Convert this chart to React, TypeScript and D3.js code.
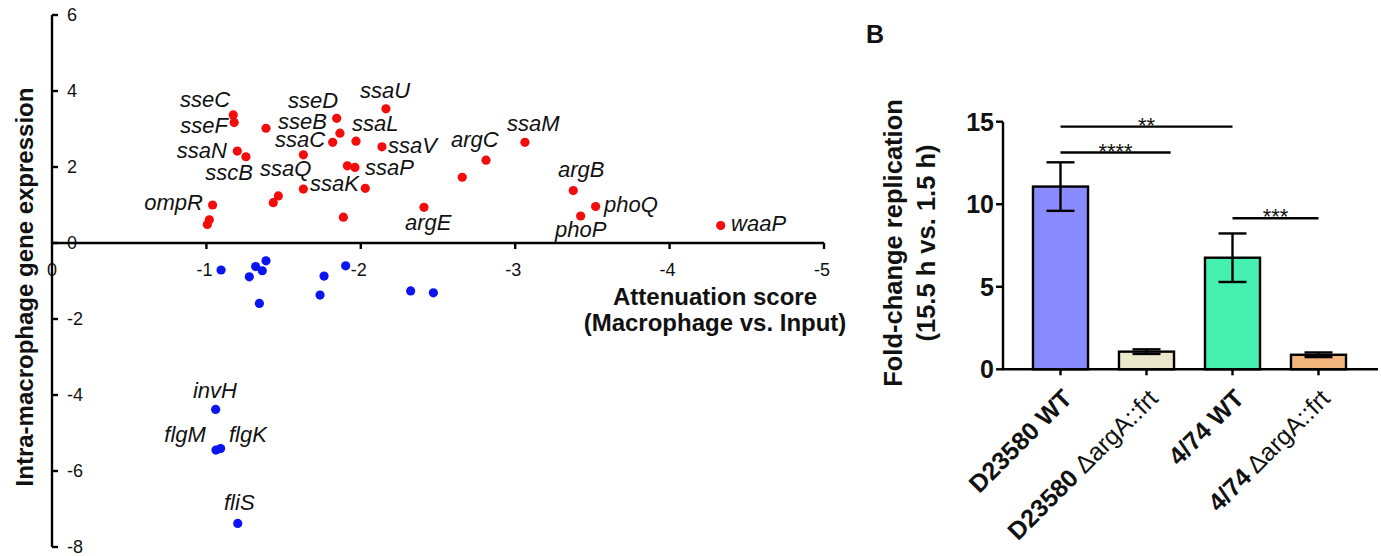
import React from "react";
import * as d3 from "d3";

const FONT = '"Liberation Sans", Arial, Helvetica, sans-serif';

// ---------- Panel A data ----------
const xTicksA = [0, -1, -2, -3, -4, -5];
const yTicksA = [6, 4, 2, 0, -2, -4, -6, -8];

// [attenuation score, intra-macrophage expression]
const upregulated: [number, number][] = [
  [-1.174, 3.37], [-1.18, 3.17], [-1.386, 3.02], [-1.2, 2.42], [-1.256, 2.27],
  [-1.628, 2.32], [-1.844, 3.28], [-1.865, 2.89], [-1.818, 2.65], [-1.969, 2.68],
  [-2.163, 3.53], [-2.137, 2.53], [-1.913, 2.03], [-1.962, 1.99], [-2.029, 1.44],
  [-1.628, 1.42], [-1.466, 1.24], [-1.433, 1.06], [-1.887, 0.68], [-1.04, 1.0],
  [-1.019, 0.61], [-1.006, 0.49], [-2.409, 0.94], [-2.657, 1.73], [-2.811, 2.18],
  [-3.063, 2.65], [-3.376, 1.38], [-3.521, 0.96], [-3.424, 0.71], [-4.331, 0.46],
];
const downregulated: [number, number][] = [
  [-1.095, -0.71], [-1.319, -0.62], [-1.362, -0.73], [-1.386, -0.47], [-1.278, -0.89],
  [-1.343, -1.59], [-1.762, -0.87], [-1.736, -1.37], [-1.902, -0.6], [-2.323, -1.26],
  [-2.47, -1.31], [-1.06, -4.38], [-1.062, -5.45], [-1.092, -5.41], [-1.203, -7.38],
];

// gene labels, anchored in data units (end = label ends at the anchor)
const geneLabels: { gene: string; x: number; y: number; end: boolean }[] = [
  { gene: "sseC", x: -1.153, y: 3.58, end: true },
  { gene: "sseF", x: -1.14, y: 2.89, end: true },
  { gene: "ssaN", x: -1.133, y: 2.24, end: true },
  { gene: "sscB", x: -1.302, y: 1.66, end: true },
  { gene: "ompR", x: -0.978, y: 0.87, end: true },
  { gene: "sseD", x: -1.528, y: 3.56, end: false },
  { gene: "sseB", x: -1.464, y: 2.99, end: false },
  { gene: "ssaC", x: -1.444, y: 2.52, end: false },
  { gene: "ssaQ", x: -1.347, y: 1.76, end: false },
  { gene: "ssaK", x: -1.671, y: 1.37, end: false },
  { gene: "ssaU", x: -1.995, y: 3.82, end: false },
  { gene: "ssaL", x: -1.943, y: 2.95, end: false },
  { gene: "ssaV", x: -2.176, y: 2.37, end: false },
  { gene: "ssaP", x: -2.027, y: 1.79, end: false },
  { gene: "argE", x: -2.286, y: 0.34, end: false },
  { gene: "argC", x: -2.584, y: 2.53, end: false },
  { gene: "ssaM", x: -2.947, y: 2.95, end: false },
  { gene: "argB", x: -3.277, y: 1.74, end: false },
  { gene: "phoQ", x: -3.575, y: 0.82, end: false },
  { gene: "phoP", x: -3.258, y: 0.16, end: false },
  { gene: "waaP", x: -4.398, y: 0.32, end: false },
  { gene: "invH", x: -0.913, y: -4.08, end: false },
  { gene: "flgM", x: -0.997, y: -5.24, end: true },
  { gene: "flgK", x: -1.146, y: -5.24, end: false },
  { gene: "fliS", x: -1.114, y: -7.03, end: false },
];

// ---------- Panel B data ----------
const strains = ["D23580 WT", "D23580 ΔargA::frt", "4/74 WT", "4/74 ΔargA::frt"];
const strainBold = ["D23580 WT", "D23580", "4/74 WT", "4/74"];
const strainRegular = ["", " ΔargA::frt", "", " ΔargA::frt"];
const foldMeans = [11.07, 1.07, 6.76, 0.88];
const foldSem = [1.47, 0.14, 1.47, 0.14];
const yTicksB = [0, 5, 10, 15];
const barColors = ["#8a8aff", "#ebe7cc", "#45f0b0", "#f2b57c"];
// significance brackets: from/to in category units, level in fold units
const sigFrom = [0, 0, 2];
const sigTo = [2, 1.28, 3];
const sigLevel = [14.7, 13.13, 9.15];
const sigText = ["**", "****", "***"];

export default function App() {
  // Panel A scales
  const xA = d3.scaleLinear().domain([0, -5]).range([52, 824]);
  const yA = d3.scaleLinear().domain([-8, 6]).range([547, 15]);

  // Panel B scales
  const xB = d3.scaleBand<string>().domain(strains).range([1017.5, 1361.5]).paddingInner(0.36).paddingOuter(0.18);
  const yB = d3.scaleLinear().domain([0, 15]).range([369.3, 121.7]);
  const center = (s: string) => (xB(s) as number) + xB.bandwidth() / 2;
  const xCat = d3.scaleLinear().domain([0, 3]).range([center(strains[0]), center(strains[3])]);
  const bw = xB.bandwidth();

  const axisW = 2.4;

  return (
    <svg
      width={1381}
      height={556}
      style={{ position: "absolute", left: 0, top: 0, display: "block", background: "#fff" }}
      fontFamily={FONT}
    >
      <rect x={0} y={0} width={1381} height={556} fill="#fff" />

      {/* ================= Panel A ================= */}
      {yTicksA.map((t) => (
        <text key={"ya" + t} x={67} y={yA(t)} dy="0.36em" fontSize={18} fill="#111">
          {t}
        </text>
      ))}
      {xTicksA.map((t) => (
        <text key={"xa" + t} x={xA(t) - (t === 0 ? 0 : 2)} y={276} fontSize={18} textAnchor="middle" fill="#111">
          {t}
        </text>
      ))}
      <line x1={xA(0)} x2={xA(0)} y1={yA(6)} y2={yA(-8)} stroke="#000" strokeWidth={axisW} />
      {yTicksA.map((t) => (
        <line key={"yta" + t} x1={xA(0)} x2={xA(0) + 6} y1={yA(t)} y2={yA(t)} stroke="#000" strokeWidth={axisW} />
      ))}
      <line x1={xA(0)} x2={xA(-5)} y1={yA(0)} y2={yA(0)} stroke="#000" strokeWidth={axisW} />
      {xTicksA.filter((t) => t !== 0).map((t) => (
        <line key={"xta" + t} x1={xA(t)} x2={xA(t)} y1={yA(0)} y2={yA(0) + 6} stroke="#000" strokeWidth={axisW} />
      ))}

      {upregulated.map((d, i) => (
        <circle key={"u" + i} cx={xA(d[0])} cy={yA(d[1])} r={4.6} fill="#f20c0c" />
      ))}
      {downregulated.map((d, i) => (
        <circle key={"d" + i} cx={xA(d[0])} cy={yA(d[1])} r={4.6} fill="#0c14f0" />
      ))}

      {geneLabels.map((g) => (
        <text
          key={g.gene}
          x={xA(g.x)}
          y={yA(g.y)}
          fontSize={22}
          fontStyle="italic"
          textAnchor={g.end ? "end" : "start"}
          fill="#111"
        >
          {g.gene}
        </text>
      ))}

      <text
        transform={`translate(33, 287) rotate(-90)`}
        textAnchor="middle"
        fontSize={24}
        fontWeight="bold"
        fill="#111"
      >
        Intra-macrophage gene expression
      </text>
      <text x={715} y={305} textAnchor="middle" fontSize={24} fontWeight="bold" fill="#111">
        Attenuation score
      </text>
      <text x={715} y={331} textAnchor="middle" fontSize={24} fontWeight="bold" fill="#111">
        (Macrophage vs. Input)
      </text>

      {/* ================= Panel B ================= */}
      <text x={866} y={43} fontSize={25} fontWeight="bold" fill="#111">
        B
      </text>

      {strains.map((s, i) => (
        <rect
          key={"bar" + i}
          x={xB(s)}
          y={yB(foldMeans[i])}
          width={bw}
          height={yB(0) - yB(foldMeans[i])}
          fill={barColors[i]}
          stroke="#000"
          strokeWidth={2.4}
        />
      ))}
      {strains.map((s, i) => {
        const cx = center(s);
        const hi = yB(foldMeans[i] + foldSem[i]);
        const lo = yB(foldMeans[i] - foldSem[i]);
        const cw = 14;
        return (
          <g key={"err" + i} stroke="#000" strokeWidth={2.4}>
            <line x1={cx} x2={cx} y1={hi} y2={lo} />
            <line x1={cx - cw} x2={cx + cw} y1={hi} y2={hi} />
            <line x1={cx - cw} x2={cx + cw} y1={lo} y2={lo} />
          </g>
        );
      })}

      <line x1={1003} x2={1003} y1={yB(15)} y2={yB(0)} stroke="#000" strokeWidth={axisW} />
      {yTicksB.map((t) => (
        <g key={"ytb" + t}>
          <line x1={996} x2={1003} y1={yB(t)} y2={yB(t)} stroke="#000" strokeWidth={axisW} />
          <text x={994} y={yB(t)} dy="0.36em" textAnchor="end" fontSize={25} fontWeight="bold" fill="#111">
            {t}
          </text>
        </g>
      ))}
      <line x1={1002} x2={1378} y1={yB(0)} y2={yB(0)} stroke="#000" strokeWidth={axisW} />
      {strains.map((s, i) => (
        <line key={"xtb" + i} x1={center(s)} x2={center(s)} y1={yB(0)} y2={yB(0) + 6} stroke="#000" strokeWidth={axisW} />
      ))}
      {strains.map((s, i) => (
        <text
          key={"xl" + i}
          transform={`translate(${center(s) + 13}, 400) rotate(-45)`}
          textAnchor="end"
          fontSize={25}
          fill="#111"
        >
          <tspan fontWeight="bold">{strainBold[i]}</tspan>
          {strainRegular[i] ? <tspan fontWeight="normal">{strainRegular[i]}</tspan> : null}
        </text>
      ))}

      {sigText.map((t, i) => {
        const x1 = xCat(sigFrom[i]);
        const x2 = xCat(sigTo[i]);
        const y = yB(sigLevel[i]);
        return (
          <g key={"sig" + i}>
            <line x1={x1} x2={x2} y1={y} y2={y} stroke="#000" strokeWidth={2.4} />
            <text x={(x1 + x2) / 2} y={y + 6} textAnchor="middle" fontSize={22} fill="#111">
              {t}
            </text>
          </g>
        );
      })}

      <text
        transform={`translate(902, 243) rotate(-90)`}
        textAnchor="middle"
        fontSize={25.5}
        fontWeight="bold"
        fill="#111"
      >
        Fold-change replication
      </text>
      <text
        transform={`translate(935, 243) rotate(-90)`}
        textAnchor="middle"
        fontSize={25.5}
        fontWeight="bold"
        fill="#111"
      >
        (15.5 h vs. 1.5 h)
      </text>
    </svg>
  );
}
